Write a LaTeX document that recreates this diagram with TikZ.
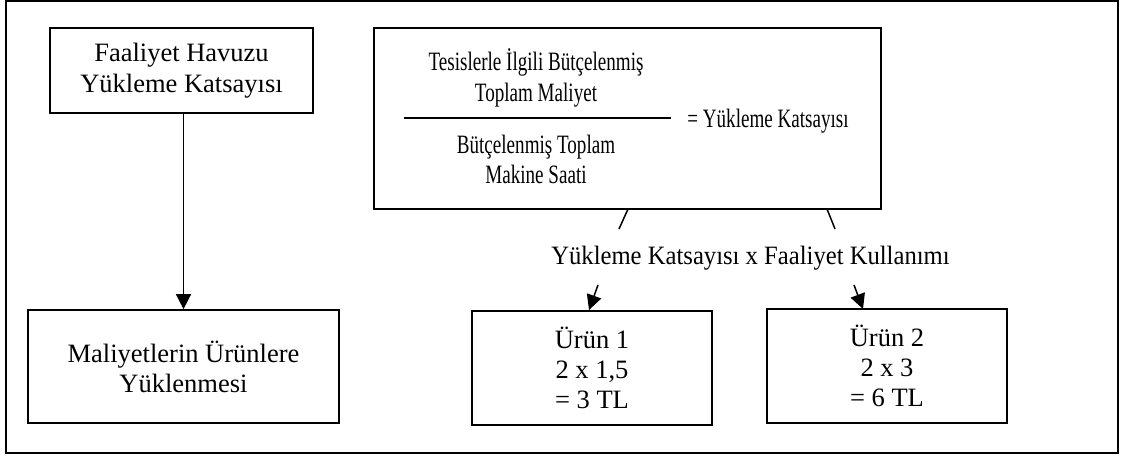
\documentclass[tikz,border=0pt]{standalone}
\usepackage{fontspec}
\setmainfont{Liberation Serif}
\newfontfamily\narrowserif[FakeStretch=0.72]{Liberation Serif}
\newfontfamily\slimserif[FakeStretch=0.93]{Liberation Serif}
\usetikzlibrary{arrows.meta}
\begin{document}
\begin{tikzpicture}[x=1pt,y=-1pt,
  box/.style={draw,line width=1.7pt,inner sep=0pt,align=center,
    font=\fontsize{26.5}{31}\selectfont},
  txt/.style={inner sep=0pt,align=center},
  conn/.style={line width=1.5pt},
  arr/.style={line width=1.5pt,-{Triangle[length=15pt,width=15pt]}}]
\useasboundingbox (0,0) rectangle (1121,457);
% frame around the whole figure
\draw[line width=1.7pt] (6,1) rectangle (1118,453);

% left column
\node[box,minimum width=263pt,minimum height=85pt] (pool) at (181.5,70.5)
  {Faaliyet Havuzu\\Yükleme Katsayısı};
\node[box,minimum width=311pt,minimum height=113pt,
  font=\fontsize{26.5}{30}\selectfont] (alloc) at (183.5,366.5)
  {Maliyetlerin Ürünlere\\Yüklenmesi};
\draw[arr] (pool.south -| alloc.north) -- (alloc.north);

% rate formula
\node[box,minimum width=507pt,minimum height=181pt] (rate) at (627.5,118.5) {};
\node[txt,font=\narrowserif\fontsize{26.5}{31}\selectfont] (num) at (536,78)
  {Tesislerle İlgili Bütçelenmiş\\Toplam Maliyet};
\node[txt,font=\narrowserif\fontsize{26.5}{30}\selectfont] (den) at (536,159.5)
  {Bütçelenmiş Toplam\\Makine Saati};
\coordinate (barL) at (404,118);
\coordinate (barR) at (671,118);
\draw[line width=2.8pt] (barL) -- (barR);
\node[txt,anchor=base,font=\narrowserif\fontsize{26.5}{31}\selectfont] (eq) at (768,128)
  {= Yükleme Katsayısı};

% allocation to products
\node[txt,anchor=base,font=\slimserif\fontsize{26.5}{31}\selectfont] (usage) at (750.5,264)
  {Yükleme Katsayısı x Faaliyet Kullanımı};
\coordinate (l1) at (628,209);
\coordinate (l2) at (619,229);
\coordinate (r1) at (827,209);
\coordinate (r2) at (835,229);
\draw[conn] (l1) -- (l2);
\draw[conn] (r1) -- (r2);

\node[box,minimum width=240pt,minimum height=114pt,
  font=\fontsize{26.5}{30}\selectfont] (p1) at (592,368)
  {Ürün 1\\2 x 1,5\\= 3 TL};
\node[box,minimum width=240pt,minimum height=114pt,
  font=\fontsize{26.5}{30}\selectfont] (p2) at (887,366)
  {Ürün 2\\2 x 3\\= 6 TL};
% short arrows pointing down onto the product boxes
\coordinate (a1) at (598,285);
\coordinate (t1) at (589,310);
\coordinate (a2) at (854,285);
\coordinate (t2) at (863,309);
\draw[arr] (a1) -- (t1);
\draw[arr] (a2) -- (t2);
\end{tikzpicture}
\end{document}
